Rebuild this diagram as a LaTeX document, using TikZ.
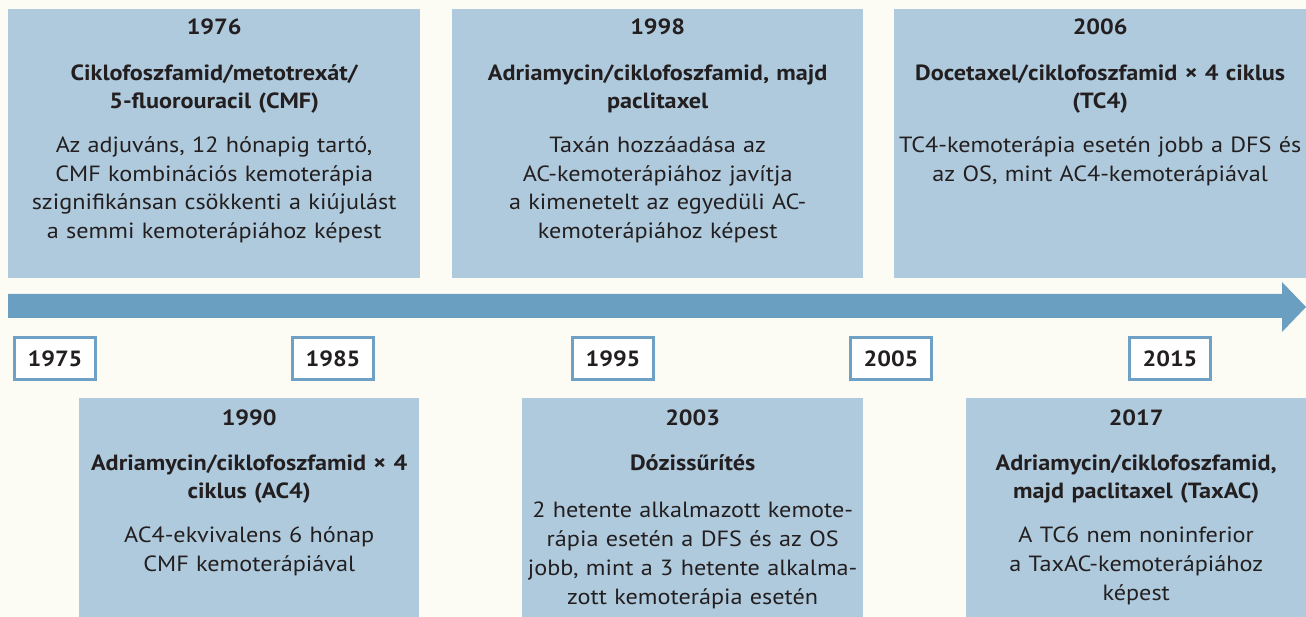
\documentclass[tikz,border=0pt]{standalone}
\usepackage{fontspec}
\setmainfont{PT Sans}[FakeStretch=1.1]
\usepackage{tikz}
\usetikzlibrary{positioning,calc}
\definecolor{TLpaper}{HTML}{FDFCF4}
\definecolor{TLbox}{HTML}{AFCADD}
\definecolor{TLarrow}{HTML}{6B9FC2}
\definecolor{TLframe}{HTML}{6FA1C7}
\definecolor{TLink}{HTML}{231F20}
\tikzset{
  tl/event/.style={fill=TLbox, inner sep=0pt, minimum height=#1},
  tl/text/.style={text=TLink, align=center, inner sep=0pt, text width=500pt,
    font=\fontsize{22}{28.7}\selectfont},
  tl/year/.style={draw=TLframe, line width=2.6pt, fill=white, text=TLink,
    minimum width=81pt, minimum height=42pt, inner sep=0pt,
    font=\fontsize{22}{24}\selectfont\bfseries},
  tl/arrow/.style={fill=TLarrow}
}
% year, title, body of one event
\newcommand{\eventtext}[3]{\bfseries #1\\[16.5pt]#2\\[15pt]\mdseries #3}

\begin{document}
\begin{tikzpicture}[x=1pt, y=-1pt]
  \fill[TLpaper] (0,0) rectangle (1306,617);
  \useasboundingbox (0,0) rectangle (1306,617);

  % upper events
  \node[tl/event=269pt, minimum width=412pt, anchor=north west] (ev1976) at (8,9) {};
  \node[tl/event=269pt, minimum width=411pt, anchor=north west] (ev1998) at (452,9) {};
  \node[tl/event=269pt, minimum width=412pt, anchor=north west] (ev2006) at (894,9) {};

  \node[tl/text, anchor=base] (tx1976) at ([yshift=-26pt]ev1976.north)
    {\eventtext{1976}{Ciklofoszfamid/metotrexát/\\5-fluorouracil (CMF)}
      {Az adjuváns, 12 hónapig tartó,\\CMF kombinációs kemoterápia\\szignifikánsan csökkenti a kiújulást\\a semmi kemoterápiához képest}};
  \node[tl/text, anchor=base] (tx1998) at ([yshift=-26pt]ev1998.north)
    {\eventtext{1998}{Adriamycin/ciklofoszfamid, majd\\paclitaxel}
      {Taxán hozzáadása az\\AC-kemoterápiához javítja\\a kimenetelt az egyedüli AC-\\kemoterápiához képest}};
  \node[tl/text, anchor=base] (tx2006) at ([yshift=-26pt]ev2006.north)
    {\eventtext{2006}{Docetaxel/ciklofoszfamid × 4 ciklus\\(TC4)}
      {TC4-kemoterápia esetén jobb a DFS és\\az OS, mint AC4-kemoterápiával}};

  % time axis
  \fill[tl/arrow] (8,294) -- (1282,294) -- (1282,282) -- (1306,307)
    -- (1282,332) -- (1282,318) -- (8,318) -- cycle;

  \node[tl/year] (y1975) at (55,358.5) {1975};
  \node[tl/year] (y1985) at (333,358.5) {1985};
  \node[tl/year] (y1995) at (613,358.5) {1995};
  \node[tl/year] (y2005) at (891,358.5) {2005};
  \node[tl/year] (y2015) at (1170,358.5) {2015};

  % lower events
  \node[tl/event=219pt, minimum width=340pt, anchor=north west] (ev1990) at (79,398) {};
  \node[tl/event=219pt, minimum width=341pt, anchor=north west] (ev2003) at (522,398) {};
  \node[tl/event=219pt, minimum width=340pt, anchor=north west] (ev2017) at (966,398) {};

  \node[tl/text, anchor=base] (tx1990) at ([yshift=-27pt]ev1990.north)
    {\eventtext{1990}{Adriamycin/ciklofoszfamid × 4\\ciklus (AC4)}
      {AC4-ekvivalens 6 hónap\\CMF kemoterápiával}};
  \node[tl/text, anchor=base] (tx2003) at ([yshift=-27pt]ev2003.north)
    {\bfseries 2003\\[16.5pt]Dózissűrítés\\[19pt]\mdseries 2 hetente alkalmazott kemote-\\rápia esetén a DFS és az OS\\jobb, mint a 3 hetente alkalma-\\zott kemoterápia esetén};
  \node[tl/text, anchor=base] (tx2017) at ([yshift=-27pt]ev2017.north)
    {\eventtext{2017}{Adriamycin/ciklofoszfamid,\\majd paclitaxel (TaxAC)}
      {A TC6 nem noninferior\\a TaxAC-kemoterápiához\\képest}};
\end{tikzpicture}
\end{document}
